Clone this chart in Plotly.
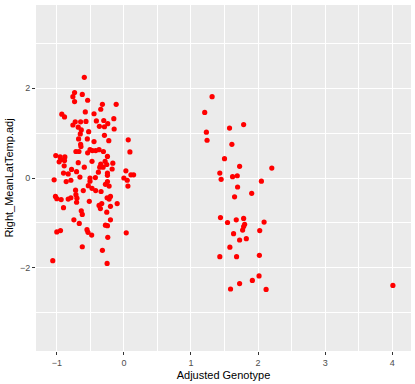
import plotly.graph_objects as go

# left cluster (genotype around -1 .. 0)
geno_left = [
    -0.59, -0.735, -0.76, -0.62, -0.54, -0.735, -0.115, -0.32, -0.345, -0.925,
    -0.885, -0.575, -0.445, -0.41, -0.30, -0.15, -0.725, -0.645, -0.565, -0.76,
    -0.68, -0.365, -0.29, -0.24, -0.145, -0.635, -0.525, -0.65, -0.29, -0.675,
    -0.545, 0.065, -0.225, -0.445, -0.645, -0.64, 0.09, -0.715, -0.67, -0.54,
    -0.505, -0.47, -0.42, -0.37, -0.305, -0.245, -1.015, -0.95, -0.94, -0.885,
    -0.88, -0.965, -0.68, -0.475, -0.345, -0.28, -0.255, -0.165, -0.89, -0.59,
    -0.36, -0.31, -0.175, -0.78, -0.90, -0.83, -0.705, -0.38, -0.245, 0.03,
    -1.04, -0.86, -0.79, -0.655, -0.505, -0.425, -0.245, 0.0, 0.05, 0.105,
    0.145, 0.06, -0.505, -0.53, -0.245, -0.275, -0.22, -0.475, -0.42, -0.34,
    -0.605, -0.72, -0.715, -1.02, -1.0, -0.935, -0.83, -0.79, -0.70, -0.705,
    -0.515, -0.25, -0.22, -0.20, -0.10, -0.90, -0.37, -0.33, -0.35, -0.20,
    -0.635, -0.62, -0.255, -0.20, -0.745, -0.665, -0.275, -0.245, -0.55, -0.535,
    -0.48, -1.0, -0.945, 0.035, -0.24, -0.62, -0.32, -1.06, -0.25,
]
temp_left = [
    2.24, 1.90, 1.81, 1.86, 1.73, 1.70, 1.64, 1.64, 1.53, 1.42,
    1.36, 1.47, 1.43, 1.27, 1.28, 1.32, 1.25, 1.25, 1.26, 1.18,
    1.13, 1.15, 1.14, 1.21, 1.09, 1.07, 1.03, 0.98, 0.95, 0.87,
    0.87, 0.85, 0.83, 0.81, 0.75, 0.70, 0.58, 0.59, 0.59, 0.56,
    0.63, 0.61, 0.61, 0.63, 0.59, 0.48, 0.50, 0.47, 0.41, 0.39,
    0.47, 0.36, 0.34, 0.37, 0.31, 0.37, 0.30, 0.33, 0.27, 0.24,
    0.24, 0.24, 0.20, 0.19, 0.11, 0.09, 0.14, 0.13, 0.11, 0.16,
    -0.04, -0.08, -0.05, 0.02, 0.00, 0.01, 0.06, 0.00, -0.05, 0.07,
    0.07, -0.18, -0.07, -0.17, -0.08, -0.14, -0.18, -0.23, -0.28, -0.30,
    -0.28, -0.27, -0.37, -0.41, -0.46, -0.48, -0.47, -0.44, -0.45, -0.54,
    -0.52, -0.44, -0.47, -0.41, -0.57, -0.66, -0.61, -0.57, -0.68, -0.63,
    -0.73, -0.81, -0.76, -0.93, -0.93, -1.01, -1.05, -1.06, -1.15, -1.21,
    -1.27, -1.20, -1.17, -1.22, -1.32, -1.53, -1.61, -1.84, -1.90,
]

# right cluster (genotype around 1.2 .. 2.2) plus the outlier at 4
geno_right = [
    1.315, 1.205, 1.785, 1.575, 1.23, 1.24, 1.61, 1.50, 1.725, 2.205,
    1.43, 1.69, 1.62, 1.45, 2.05, 1.695, 1.905, 1.65, 1.44, 1.675,
    1.785, 1.545, 2.09, 1.80, 1.785, 1.77, 2.025, 1.635, 1.825, 1.725,
    1.58, 1.43, 1.68, 2.02, 2.015, 1.915, 1.725, 1.59, 2.12, 4.01,
]
temp_right = [
    1.81, 1.46, 1.19, 1.11, 1.02, 0.84, 0.75, 0.43, 0.26, 0.22,
    0.11, 0.05, 0.03, -0.03, -0.07, -0.20, -0.34, -0.42, -0.88, -0.93,
    -0.90, -0.99, -0.98, -1.03, -1.08, -1.16, -1.17, -1.24, -1.35, -1.38,
    -1.54, -1.75, -1.75, -1.72, -2.18, -2.28, -2.35, -2.47, -2.48, -2.39,
]

x = geno_left + geno_right
y = temp_left + temp_right

fig = go.Figure(go.Scatter(
    x=x, y=y, mode="markers",
    marker=dict(color="#FF0000", size=5.2, line=dict(width=0)),
))

axis_common = dict(
    showgrid=True, gridcolor="white", gridwidth=1.1,
    zeroline=False, showline=False, automargin=False,
    ticks="outside", ticklen=3, tickcolor="#333333", tickwidth=1,
    tickfont=dict(size=9, color="#4D4D4D"),
)

fig.update_xaxes(
    range=[-1.31, 4.28], tickvals=[-1, 0, 1, 2, 3, 4],
    minor=dict(tickvals=[-0.5, 0.5, 1.5, 2.5, 3.5], showgrid=True,
               gridcolor="white", gridwidth=0.55, ticks=""),
    title=dict(text="Adjusted Genotype", font=dict(size=11, color="black"), standoff=4),
    **axis_common,
)
fig.update_yaxes(
    range=[-3.85, 3.85], tickvals=[-2, 0, 2],
    minor=dict(tickvals=[-3, -1, 1, 3], showgrid=True,
               gridcolor="white", gridwidth=0.55, ticks=""),
    title=dict(text="Right_MeanLatTemp.adj", font=dict(size=11, color="black"), standoff=4),
    **axis_common,
)

fig.update_layout(
    width=415, height=384,
    margin=dict(l=36, r=4, t=5, b=33),
    plot_bgcolor="#EBEBEB", paper_bgcolor="white",
    font=dict(family="Liberation Sans, Arial, sans-serif"),
    showlegend=False,
)

# the page body has a default 8px margin; drop it so the figure sits at 0,0
fig.write_html("out.html", config={"displayModeBar": False},
               post_script="document.body.style.margin='0';")
